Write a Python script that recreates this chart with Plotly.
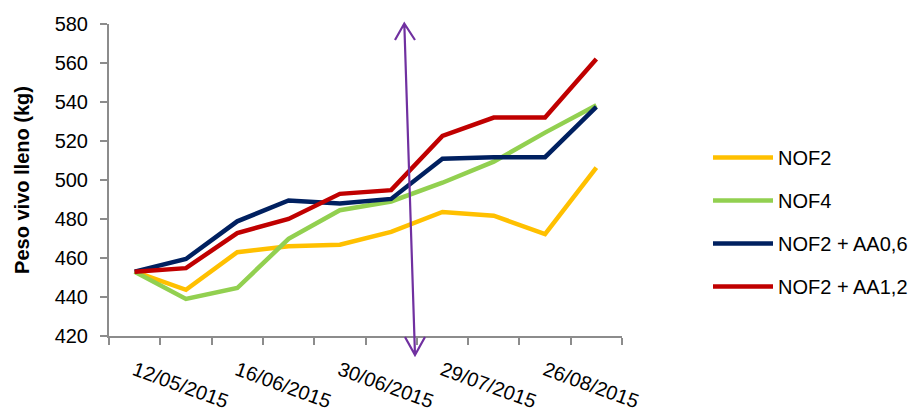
import plotly.graph_objects as go

# categories (10 sampling points); only every second one is labelled
x_idx = list(range(10))
tick_pos = [0, 2, 4, 6, 8]
tick_labels = ["12/05/2015", "16/06/2015", "30/06/2015", "29/07/2015", "26/08/2015"]

nof2 = [453, 443.7, 463, 466, 466.8, 473.4, 483.6, 481.7, 472.3, 506.3]
nof4 = [453, 439, 444.6, 469.8, 484.5, 489, 498.6, 509.4, 524.3, 538.3]
nof2_aa06 = [453, 459.5, 478.8, 489.5, 488, 490.3, 510.9, 511.7, 511.7, 537.5]
nof2_aa12 = [453, 454.8, 472.8, 480, 492.9, 494.8, 522.6, 532, 532, 562]

series = [
    ("NOF2", nof2, "#FFC000"),
    ("NOF4", nof4, "#92D050"),
    ("NOF2 + AA0,6", nof2_aa06, "#002060"),
    ("NOF2 + AA1,2", nof2_aa12, "#C00000"),
]

FONT = "Liberation Sans, Arial, sans-serif"
FS = 20
fig = go.Figure()
for i, (name, vals, col) in enumerate(series):
    fig.add_trace(go.Scatter(x=x_idx, y=vals, name=name, mode="lines",
                             line=dict(color=col, width=4.5),
                             legendgroup=f"g{i}"))

# invisible trace on overlay axis for labels
fig.add_trace(go.Scatter(x=[0, 9], y=[None, None], xaxis="x2", showlegend=False,
                         hoverinfo="skip"))

W, H = 908, 414
L, R, T, B = 109, 286, 24, 78
pw, ph = W - L - R, H - T - B

def px(x):
    return (x - L) / pw

def py(y):
    return (H - B - y) / ph

# purple double arrow (paper coords from pixel positions)
ax_top = (404.3, 23.5)
ax_bot = (415.0, 355.0)
path = (f"M{px(ax_top[0])},{py(ax_top[1])} L{px(ax_bot[0])},{py(ax_bot[1])} "
        f"M{px(395)},{py(40)} L{px(ax_top[0])},{py(ax_top[1])} L{px(415)},{py(40)} "
        f"M{px(405)},{py(337)} L{px(ax_bot[0])},{py(ax_bot[1])} L{px(425)},{py(337)}")
fig.add_shape(type="path", path=path, xref="paper", yref="paper",
              line=dict(color="#7030A0", width=2.2))

fig.update_layout(
    width=W, height=H,
    margin=dict(l=L, r=R, t=T, b=B, pad=0, autoexpand=False),
    paper_bgcolor="white", plot_bgcolor="white",
    font=dict(family=FONT, size=FS, color="#000000"),
    xaxis=dict(range=[-0.5, 9.5], tickmode="array", automargin=False,
               tickvals=[i - 0.5 for i in range(11)], ticktext=[""] * 11,
               ticks="outside", ticklen=7, tickwidth=2, tickcolor="#8c8c8c",
               showline=True, linecolor="#8c8c8c", linewidth=2,
               showgrid=False, zeroline=False, fixedrange=True),
    xaxis2=dict(range=[-0.5, 9.5], overlaying="x", side="bottom",
                automargin=False,
                tickmode="array", tickvals=tick_pos, ticktext=tick_labels,
                tickangle=20, ticks="", showline=False, showgrid=False,
                zeroline=False, ticklabelstandoff=18,
                tickfont=dict(family=FONT, size=FS)),
    yaxis=dict(range=[420, 580], dtick=20, ticks="outside", ticklen=7,
               automargin=False,
               tickwidth=2, tickcolor="#8c8c8c", showline=True,
               linecolor="#8c8c8c", linewidth=2, showgrid=False,
               zeroline=False, ticklabelstandoff=8,
               title=dict(text="<b>Peso vivo lleno (kg)</b>", standoff=20,
                          font=dict(family=FONT, size=FS))),
    legend=dict(x=px(708), y=py(138), xanchor="left", yanchor="top",
                tracegroupgap=14, itemwidth=60,
                font=dict(family=FONT, size=FS), bgcolor="rgba(0,0,0,0)"),
    showlegend=True,
)

fig.write_html("out.html")
